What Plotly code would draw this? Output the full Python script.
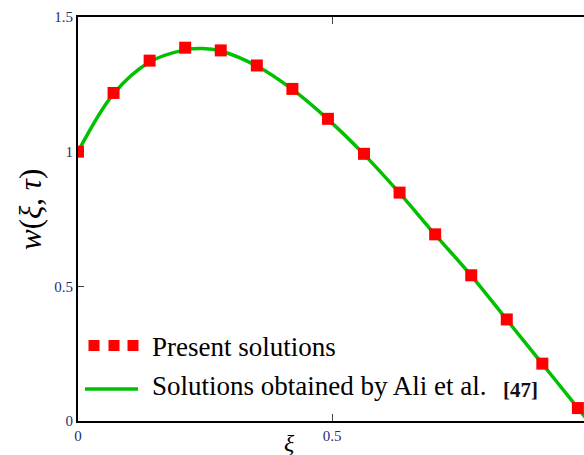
import plotly.graph_objects as go

# Present solutions (markers)
xi_pts = [0.0, 0.070, 0.141, 0.211, 0.281, 0.352, 0.422, 0.492, 0.563, 0.633, 0.703, 0.774, 0.844, 0.914, 0.984]
w_pts = [1.000, 1.218, 1.338, 1.386, 1.376, 1.320, 1.233, 1.122, 0.992, 0.848, 0.693, 0.541, 0.377, 0.213, 0.048]

# Solutions obtained by Ali et al. [47] (line)
xi_line = [0.0, 0.070, 0.141, 0.211, 0.245, 0.281, 0.352, 0.422, 0.492, 0.563, 0.633, 0.703, 0.774, 0.844, 0.914, 0.984, 1.0]
w_line = [1.000, 1.215, 1.333, 1.378, 1.383, 1.374, 1.318, 1.231, 1.120, 0.990, 0.846, 0.692, 0.540, 0.376, 0.212, 0.048, 0.010]

x_ticks = [0, 0.5, 1]
x_ticklabels = ["0", "0.5", "1"]
y_ticks = [0, 0.5, 1, 1.5]
y_ticklabels = ["0", "0.5", "1", "1.5"]

W, H = 584, 455
L, R, T, B = 78, 0, 17, 34
pw, ph = W - L - R, H - T - B

def px(x):
    return (x - L) / pw

def py(y):
    return (H - B - y) / ph

serif = "Liberation Serif, Times New Roman, serif"
navy = "#1c2f6e"

fig = go.Figure()
fig.add_trace(go.Scatter(x=xi_line, y=w_line, mode="lines", line=dict(color="#00c000", width=3.5, shape="spline"),
                         showlegend=False))
fig.add_trace(go.Scatter(x=xi_pts, y=w_pts, mode="markers",
                         marker=dict(symbol="square", size=12, color="#ff0000", line=dict(width=0)),
                         showlegend=False))

fig.update_layout(
    width=W, height=H, margin=dict(l=L, r=R, t=T, b=B),
    paper_bgcolor="white", plot_bgcolor="white", showlegend=False,
    xaxis=dict(range=[0, 0.996], tickvals=x_ticks, ticktext=x_ticklabels, showgrid=False, zeroline=False,
               showline=True, linecolor="black", linewidth=2, mirror="ticks",
               ticks="inside", ticklen=7, tickcolor="#444", tickwidth=1,
               tickfont=dict(family=serif, size=15, color=navy)),
    yaxis=dict(range=[0, 1.5], tickvals=y_ticks, ticktext=y_ticklabels, showgrid=False, zeroline=False,
               showline=True, linecolor="black", linewidth=2,
               ticks="inside", ticklen=6, tickcolor="#444", tickwidth=1,
               tickfont=dict(family=serif, size=15, color=navy)),
    yaxis2=dict(range=[0, 1.5], overlaying="y", side="right", anchor="x", showline=False, showgrid=False,
                zeroline=False, tickvals=[0.5, 1], ticks="inside", ticklen=6, tickcolor="#444",
                showticklabels=False),
)

ann = []
ann.append(dict(x=px(30), y=py(210), xref="paper", yref="paper", showarrow=False, textangle=-90,
                text="<i>w</i>(<i>ξ</i>, <i>τ</i>)", font=dict(family=serif, size=31, color="black"),
                xanchor="center", yanchor="middle"))
ann.append(dict(x=px(289), y=py(443), xref="paper", yref="paper", showarrow=False,
                text="<i>ξ</i>", font=dict(family=serif, size=24, color="black"),
                xanchor="center", yanchor="middle"))
ann.append(dict(x=px(150), y=py(347), xref="paper", yref="paper", showarrow=False,
                text="Present solutions", font=dict(family=serif, size=27, color="black"),
                xanchor="left", yanchor="middle"))
ann.append(dict(x=px(150), y=py(386), xref="paper", yref="paper", showarrow=False,
                text="Solutions obtained by Ali et al.", font=dict(family=serif, size=27, color="black"),
                xanchor="left", yanchor="middle"))
ann.append(dict(x=px(501), y=py(390), xref="paper", yref="paper", showarrow=False,
                text="<b>[47]</b>", font=dict(family=serif, size=21, color="#111"),
                xanchor="left", yanchor="middle"))
fig.update_layout(annotations=ann)

shapes = []
for cx in [94, 114, 133]:
    shapes.append(dict(type="rect", xref="paper", yref="paper", x0=px(cx - 5.5), x1=px(cx + 5.5),
                       y0=py(351), y1=py(340), fillcolor="#ff0000", line=dict(width=0)))
shapes.append(dict(type="line", xref="paper", yref="paper", x0=px(85), x1=px(138), y0=py(389), y1=py(389),
                   line=dict(color="#00c000", width=3.5)))
fig.update_layout(shapes=shapes)

fig.write_html("out.html")
